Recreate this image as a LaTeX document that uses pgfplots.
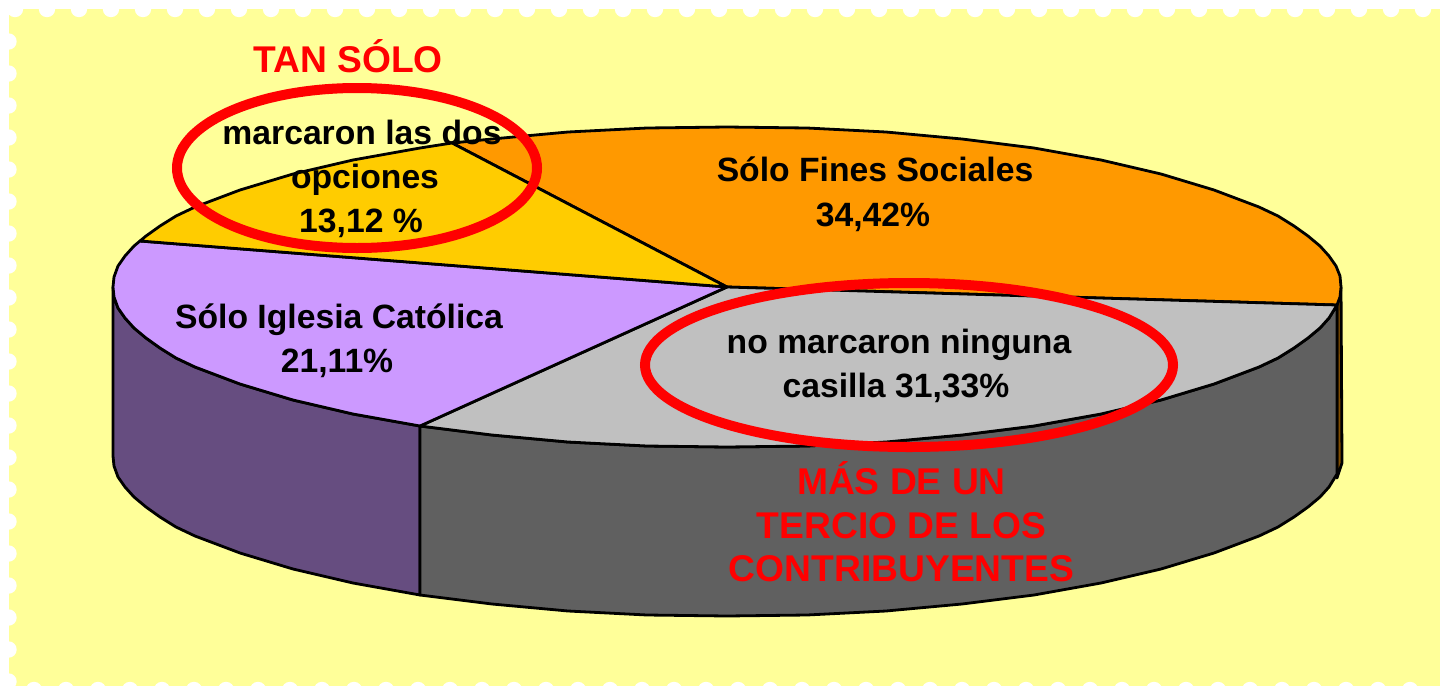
\documentclass[border=0pt]{standalone}
\usepackage{pgfplots}
\pgfplotsset{compat=1.18}
\usepackage{fontspec}
\setmainfont{Liberation Sans}
\definecolor{bgy}{HTML}{FFFF99}
\definecolor{orn}{HTML}{FF9900}
\definecolor{gld}{HTML}{FFCC00}
\definecolor{pur}{HTML}{CC99FF}
\definecolor{gry}{HTML}{C0C0C0}
\definecolor{dgry}{HTML}{606060}
\definecolor{dpur}{HTML}{664D80}
\definecolor{dorn}{HTML}{804D00}
\begin{document}
\begin{tikzpicture}
\begin{axis}[
  scale only axis, width=720pt, height=343pt,
  xmin=0, xmax=1440, ymin=0, ymax=686, y dir=reverse,
  hide axis, clip=true,
]
% page and stamp background
\addplot[fill=white,draw=none,forget plot] coordinates {(0,0)(1440,0)(1440,686)(0,686)} -- cycle;
\addplot[fill=bgy,draw=none,forget plot] coordinates {(8.5,9)(1440,9)(1440,686)(8.5,686)} -- cycle;
\pgfplotsinvokeforeach{0,...,44}{
  \fill[white] (axis cs:{15+32*#1},9) circle[radius=4.1pt];
  \fill[white] (axis cs:{2+32*#1},690) circle[radius=4.1pt];
}
\pgfplotsinvokeforeach{0,...,20}{
  \fill[white] (axis cs:8.5,{41.5+32*#1}) circle[radius=4.1pt];
}
\pgfplotsset{every axis plot/.append style={draw=black,line width=1.4pt,line join=round}}
% orange rim sliver
\addplot[fill=dorn,forget plot] coordinates {(1337,305)(1341,287)(1342,463)(1337,478)} -- cycle;
% dark purple side
\addplot[fill=dpur,forget plot] coordinates {
(420,426)(353,414)(293,400)(240,384)(195,367)(176,358)(160,348)(146,338)(134,328)(125,318)(118,308)(114,297)(113,287)
(113,456)(114,466)(118,477)(125,487)(134,497)(146,507)(160,517)(176,527)(195,536)(240,553)(293,569)(353,583)(420,595)} -- cycle;
% dark grey side
\addplot[fill=dgry,forget plot] coordinates {
(1337,305)(1329,318)(1320,328)(1308,338)(1294,348)(1278,358)(1259,367)(1214,384)(1161,400)(1101,414)(1034,426)(962,435)(886,442)(807,446)(727,447)(647,446)(568,442)(492,435)(420,426)
(420,595)(492,604)(568,611)(647,615)(727,616)(807,615)(886,611)(962,604)(1034,595)(1101,583)(1161,569)(1214,553)(1259,536)(1278,527)(1294,517)(1308,507)(1320,497)(1329,487)(1337,474)} -- cycle;
% top surface
\addplot[fill=orn,forget plot] coordinates {
(727,287)(452,143)(492,139)(568,132)(647,128)(727,127)(807,128)(886,132)(962,139)(1034,148)(1101,160)(1161,174)(1214,190)(1259,207)(1278,216)(1294,226)(1308,236)(1320,246)(1329,256)(1336,266)(1340,276)(1341,287)(1340,297)(1337,305)} -- cycle;
\addplot[fill=gry,forget plot] coordinates {
(727,287)(1337,305)(1329,318)(1320,328)(1308,338)(1294,348)(1278,358)(1259,367)(1214,384)(1161,400)(1101,414)(1034,426)(962,435)(886,442)(807,446)(727,447)(647,446)(568,442)(492,435)(420,426)} -- cycle;
\addplot[fill=pur,forget plot] coordinates {
(727,287)(420,426)(353,414)(293,400)(240,384)(195,367)(176,358)(160,348)(146,338)(134,328)(125,318)(118,308)(114,297)(113,287)(114,277)(118,266)(125,256)(134,246)(140,241)} -- cycle;
\addplot[fill=gld,forget plot] coordinates {
(727,287)(140,241)(146,236)(160,226)(176,216)(195,207)(240,190)(293,174)(353,160)(420,148)(452,143)} -- cycle;
% labels
\tikzset{lab/.style={font=\bfseries\fontsize{16.85pt}{20pt}\selectfont,text=black,inner sep=0pt,anchor=base},
 rlab/.style={font=\bfseries\fontsize{18.6pt}{22pt}\selectfont,text=red,inner sep=0pt,anchor=base}}
\node[lab] at (axis cs:875,181) {Sólo Fines Sociales};
\node[lab] at (axis cs:873,226) {34,42\%};
\node[lab] at (axis cs:362,144) {marcaron las dos};
\node[lab] at (axis cs:365,188) {opciones};
\node[lab] at (axis cs:361,232) {13,12 \%};
\node[lab] at (axis cs:339,328) {Sólo Iglesia Católica};
\node[lab] at (axis cs:337,372) {21,11\%};
\node[lab] at (axis cs:899,353) {no marcaron ninguna};
\node[lab] at (axis cs:896,397) {casilla 31,33\%};
\node[rlab] at (axis cs:348,72) {TAN SÓLO};
\node[rlab] at (axis cs:901.5,494) {MÁS DE UN};
\node[rlab] at (axis cs:901.5,538) {TERCIO DE LOS};
\node[rlab] at (axis cs:901.5,581) {CONTRIBUYENTES};
% red ellipses
\draw[red,line width=5pt] (axis cs:357,168) ellipse[x radius=90pt,y radius=40pt];
\draw[red,line width=5pt] (axis cs:909,365) ellipse[x radius=132pt,y radius=41pt];
\end{axis}
\end{tikzpicture}
\end{document}
